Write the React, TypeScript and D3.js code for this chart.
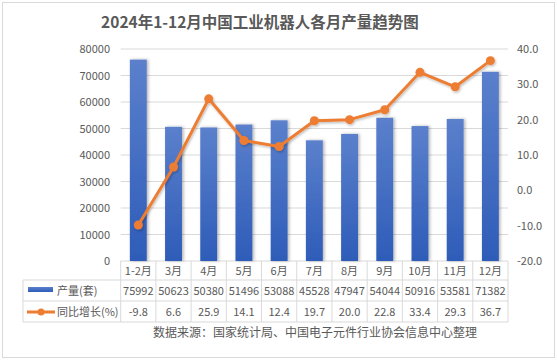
import React from "react";
import * as d3 from "d3";

const categories = ["1-2月", "3月", "4月", "5月", "6月", "7月", "8月", "9月", "10月", "11月", "12月"];
const production = [75992, 50623, 50380, 51496, 53088, 45528, 47947, 54044, 50916, 53581, 71382];
const growth = [-9.8, 6.6, 25.9, 14.1, 12.4, 19.7, 20.0, 22.8, 33.4, 29.3, 36.7];
const leftTicks = [0, 10000, 20000, 30000, 40000, 50000, 60000, 70000, 80000];
const rightTicks = [-20, -10, 0, 10, 20, 30, 40];
const title = "2024年1-12月中国工业机器人各月产量趋势图";
const seriesNames = ["产量(套)", "同比增长(%)"];
const source = "数据来源：国家统计局、中国电子元件行业协会信息中心整理";

export default function App() {
  const W = 557, H = 361;
  const left = 120.7, right = 508, top = 49, bottom = 261;
  const x = d3.scaleBand<string>().domain(categories).range([left, right]).paddingInner(0.52).paddingOuter(0.26);
  const xCol = d3.scaleBand<string>().domain(categories).range([left, right]);
  const yL = d3.scaleLinear().domain([0, 80000]).range([bottom, top]);
  const yR = d3.scaleLinear().domain([-20, 40]).range([bottom, top]);
  const line = d3.line<number>().x((_, i) => xCol(categories[i])! + xCol.bandwidth() / 2).y((d) => yR(d));
  const font = "'Noto Sans CJK SC', 'Noto Sans', sans-serif";
  const rowY = [261, 280, 301, 322];
  const tableLeft = 23;
  const gridColor = "#d9d9d9";
  const txt = "#595959";

  return (
    <svg width={W} height={H} style={{ position: "absolute", left: 0, top: 0 }} fontFamily={font}>
      <defs>
        <linearGradient id="barGrad" x1="0" y1="0" x2="0" y2="1">
          <stop offset="0%" stopColor="#5b80cc" />
          <stop offset="100%" stopColor="#2e5cb8" />
        </linearGradient>
        <filter id="shadow" x="-30%" y="-10%" width="160%" height="120%">
          <feDropShadow dx="1.5" dy="0" stdDeviation="1.5" floodColor="#000" floodOpacity="0.3" />
        </filter>
        <filter id="lshadow" x="-10%" y="-10%" width="120%" height="130%">
          <feDropShadow dx="1" dy="1.5" stdDeviation="1.2" floodColor="#000" floodOpacity="0.25" />
        </filter>
      </defs>
      <rect x={0} y={0} width={W} height={H} fill="#fff" />
      <rect x={2.5} y={2.5} width={W - 5} height={H - 6} fill="none" stroke="#d9d9d9" />
      <text x={260} y={28} textAnchor="middle" fontSize={15.5} fontWeight="bold" fill={txt}>{title}</text>

      {leftTicks.map((t) => (
        <line key={"g" + t} x1={left} x2={right} y1={yL(t)} y2={yL(t)} stroke={gridColor} strokeWidth={1} />
      ))}
      {leftTicks.map((t) => (
        <text key={"l" + t} x={110} y={yL(t) + 4} textAnchor="end" fontSize={11} fill={txt}>{t}</text>
      ))}
      {rightTicks.map((t) => (
        <text key={"r" + t} x={517} y={yR(t) + 4} textAnchor="start" fontSize={11} fill={txt}>{t.toFixed(1)}</text>
      ))}

      {production.map((v, i) => (
        <rect key={"b" + i} x={x(categories[i])} y={yL(v)} width={x.bandwidth()} height={bottom - yL(v)} fill="url(#barGrad)" filter="url(#shadow)" />
      ))}

      <g filter="url(#lshadow)">
        <path d={line(growth) || ""} fill="none" stroke="#ed7d31" strokeWidth={3} strokeLinejoin="round" />
        {growth.map((v, i) => (
          <circle key={"c" + i} cx={xCol(categories[i])! + xCol.bandwidth() / 2} cy={yR(v)} r={4.5} fill="#ed7d31" />
        ))}
      </g>

      {/* table */}
      {[rowY[1], rowY[2], rowY[3]].map((yy, i) => (
        <line key={"h" + i} x1={tableLeft} x2={right} y1={yy} y2={yy} stroke={gridColor} />
      ))}
      <line x1={tableLeft} x2={tableLeft} y1={rowY[1]} y2={rowY[3]} stroke={gridColor} />
      {categories.map((c, i) => (
        <line key={"v" + i} x1={xCol(c)} x2={xCol(c)} y1={rowY[0]} y2={rowY[3]} stroke={gridColor} />
      ))}
      <line x1={right} x2={right} y1={rowY[0]} y2={rowY[3]} stroke={gridColor} />
      {categories.map((c, i) => {
        const cx = xCol(c)! + xCol.bandwidth() / 2;
        return (
          <g key={"t" + i} fontSize={11} fill={txt} textAnchor="middle">
            <text x={cx} y={(rowY[0] + rowY[1]) / 2 + 4}>{c}</text>
            <text x={cx} y={(rowY[1] + rowY[2]) / 2 + 4}>{production[i]}</text>
            <text x={cx} y={(rowY[2] + rowY[3]) / 2 + 4}>{growth[i].toFixed(1)}</text>
          </g>
        );
      })}
      <rect x={28} y={287} width={25} height={5} fill="url(#barGrad)" />
      <text x={57} y={294.5} fontSize={11} fill={txt}>{seriesNames[0]}</text>
      <line x1={27} x2={55} y1={312} y2={312} stroke="#ed7d31" strokeWidth={3} />
      <circle cx={41} cy={312} r={3.5} fill="#ed7d31" />
      <text x={57} y={315.5} fontSize={11} fill={txt}>{seriesNames[1]}</text>

      <text x={315} y={337} textAnchor="middle" fontSize={12} fill={txt}>{source}</text>
    </svg>
  );
}
